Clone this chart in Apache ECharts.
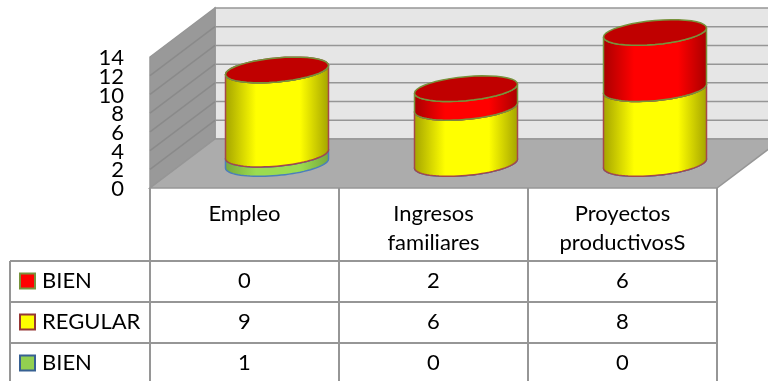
<!DOCTYPE html>
<html>
<head>
<meta charset="utf-8">
<style>html,body{margin:0;padding:0;background:#fff}#box1{width:768px;height:381px}</style>
<script src="https://cdn.jsdelivr.net/npm/echarts@6/dist/echarts.min.js"></script>
</head>
<body>
<div id="box1"></div>
<script>
const aCategory = ['Empleo', 'Ingresos\nfamiliares', 'Proyectos\nproductivosS'];
const aTick = [0, 2, 4, 6, 8, 10, 12, 14];
// bottom of the stack first
const aName = ['BIEN', 'REGULAR', 'BIEN'];
const aGreen = [1, 0, 0];
const aYellow = [9, 6, 8];
const aRed = [0, 2, 6];

const sFont = 'Lato';
const iFont = 22;
const sLine = '#969696';
const iDepthX = 65, iDepthY = -49; // floor depth in px
const iRowTop = 73, iRowH = 41;   // table, measured down from the axis line
const iTableLeft = 10;

const aLook = [
    { edge: '#4a7ebb', stroke: '#4a7ebb', cap: '#7fb23f', dark: '#76a83c', light: '#9bdc50', key: '#92d050', keyLine: '#376092' },
    { edge: '#a5484a', stroke: '#a5484a', cap: '#d8d800', dark: '#a3a300', light: '#ffff00', key: '#ffff00', keyLine: '#953735' },
    { edge: '#77933c', stroke: '#77933c', cap: '#c00000', dark: '#a80000', light: '#ff0000', key: '#ff0000', keyLine: '#77933c' },
];

// the tilted ellipse seen at a given height of the cylinder
function ring(cx, cy, a, b, s, t0, t1){
    const aPt = [];
    for (let i = 0; i <= 40; i++){
        const t = t0 + (t1 - t0) * i / 40;
        aPt.push([cx + a * Math.cos(t), cy + b * Math.sin(t) - s * Math.cos(t)]);
    }
    return aPt;
}

function renderBox(params, api){
    const [x0, y0] = api.coord([0, 0]);
    const [, yTop] = api.coord([0, 14]);
    const { x: gx, width: gw } = params.coordSys;
    const xL = gx, xR = gx + gw;
    const aKid = [];
    const poly = (points, fill) => ({ type: 'polygon', shape: { points }, style: { fill, stroke: sLine, lineWidth: 1.5 } });
    const line = (x1, y1, x2, y2, stroke) => ({ type: 'line', shape: { x1, y1, x2, y2 }, style: { stroke, lineWidth: 1.5 } });
    aKid.push(poly([[xL + iDepthX, yTop + iDepthY], [xR + iDepthX, yTop + iDepthY], [xR + iDepthX, y0 + iDepthY], [xL + iDepthX, y0 + iDepthY]], '#e6e6e6'));
    aKid.push(poly([[xL, yTop], [xL + iDepthX, yTop + iDepthY], [xL + iDepthX, y0 + iDepthY], [xL, y0]], '#999999'));
    aKid.push(poly([[xL, y0], [xR, y0], [xR + iDepthX, y0 + iDepthY], [xL + iDepthX, y0 + iDepthY]], '#acacac'));
    aTick.slice(1, -1).forEach(v => {
        const y = api.coord([0, v])[1];
        aKid.push(line(xL, y, xL + iDepthX, y + iDepthY, '#8a8a8a'));
        aKid.push(line(xL + iDepthX, y + iDepthY, xR + iDepthX, y + iDepthY, sLine));
    });
    // axis labels here: the axis itself drops neighbours that overlap, the original keeps them all
    aTick.forEach(v => {
        const y = api.coord([0, v])[1];
        aKid.push({ type: 'text', style: { text: String(v), x: xL - 26, y: y + 1, fill: '#000',
            font: `${iFont}px ${sFont}`, textAlign: 'right', textVerticalAlign: 'middle' } });
    });
    return { type: 'group', children: aKid };
}

function renderTable(params, api){
    const [, y0] = api.coord([0, 0]);
    const { x: gx, width: gw } = params.coordSys;
    const iBand = gw / aCategory.length;
    const aKid = [];
    const line = (x1, y1, x2, y2) => ({ type: 'line', shape: { x1, y1, x2, y2 }, style: { stroke: sLine, lineWidth: 2 } });
    for (let i = 0; i <= aCategory.length; i++){
        aKid.push(line(gx + iBand * i, y0, gx + iBand * i, 381));
    }
    aKid.push(line(iTableLeft, y0 + iRowTop, iTableLeft, 381));
    for (let i = 0; i < 3; i++){
        aKid.push(line(iTableLeft, y0 + iRowTop + iRowH * i, gx + gw, y0 + iRowTop + iRowH * i));
    }
    // rows run top to bottom, series run bottom to top
    [aRed, aYellow, aGreen].forEach((aVal, iRow) => {
        const iLook = 2 - iRow;
        const yMid = y0 + iRowTop + iRowH * iRow + iRowH / 2 - 0.5;
        aKid.push({ type: 'rect', shape: { x: iTableLeft + 10, y: yMid - 7.5, width: 15, height: 15 },
            style: { fill: aLook[iLook].key, stroke: aLook[iLook].keyLine, lineWidth: 2 } });
        aKid.push({ type: 'text', style: { text: aName[iLook], x: iTableLeft + 32, y: yMid, fill: '#000',
            font: `${iFont}px ${sFont}`, textAlign: 'left', textVerticalAlign: 'middle' } });
        aVal.forEach((v, iCol) => {
            aKid.push({ type: 'text', style: { text: String(v), x: gx + iBand * (iCol + 0.5), y: yMid, fill: '#000',
                font: `${iFont}px ${sFont}`, textAlign: 'center', textVerticalAlign: 'middle' } });
        });
    });
    return { type: 'group', children: aKid };
}

function renderCylinder(oLook){
    return function(params, api){
        const iCat = api.value(0);
        const [x, yLow] = api.coord([iCat, api.value(1)]);
        const [, yHigh] = api.coord([iCat, api.value(2)]);
        const cx = x + iDepthX / 2, yA = yLow + iDepthY / 2, yB = yHigh + iDepthY / 2;
        const a = 51.5, b = 12, s = 4.5;
        const aLower = ring(cx, yA, a, b, s, 0, Math.PI);
        const aFrontTop = ring(cx, yB, a, b, s, Math.PI, 0);
        const fill = new echarts.graphic.LinearGradient(0, 0, 1, 0, [
            { offset: 0, color: oLook.dark },
            { offset: 0.3, color: oLook.light },
            { offset: 0.72, color: oLook.light },
            { offset: 1, color: oLook.dark },
        ]);
        return { type: 'group', children: [
            { type: 'polygon', shape: { points: aLower.concat(aFrontTop) }, style: { fill, stroke: oLook.edge, lineWidth: 1.5 } },
            { type: 'polygon', shape: { points: ring(cx, yB, a, b, s, 0, Math.PI * 2) }, style: { fill: oLook.cap, stroke: oLook.stroke, lineWidth: 1.5 } },
        ] };
    };
}

function getStack(){
    const aBase = aCategory.map(() => 0);
    return [aGreen, aYellow, aRed].map((aVal, i) => {
        const data = aVal.map((v, iCat) => {
            const row = [iCat, aBase[iCat], aBase[iCat] + v];
            aBase[iCat] += v;
            return row;
        });
        return { type: 'custom', name: aName[i], renderItem: renderCylinder(aLook[i]), data, clip: false, z: 3 };
    });
}

const myChart = echarts.init(document.getElementById('box1'), null, { renderer: 'canvas' });
myChart.setOption({
    animation: false,
    backgroundColor: '#fff',
    grid: { left: 150, right: 51, top: 57, bottom: 193 },
    xAxis: {
        type: 'category',
        data: aCategory,
        axisLine: { show: false },
        axisTick: { show: false },
        axisLabel: { color: '#000', fontFamily: sFont, fontSize: iFont, lineHeight: 29, margin: 11, verticalAlign: 'top', interval: 0 },
    },
    yAxis: {
        type: 'value',
        min: 0,
        max: 14,
        interval: 2,
        splitLine: { show: false },
        axisLine: { show: false },
        axisTick: { show: false },
        axisLabel: { show: false },
    },
    series: [
        { type: 'custom', renderItem: renderBox, data: [[0]], clip: false, z: 1, silent: true },
        { type: 'custom', renderItem: renderTable, data: [[0]], clip: false, z: 2, silent: true },
        ...getStack(),
    ],
});
</script>
</body>
</html>
